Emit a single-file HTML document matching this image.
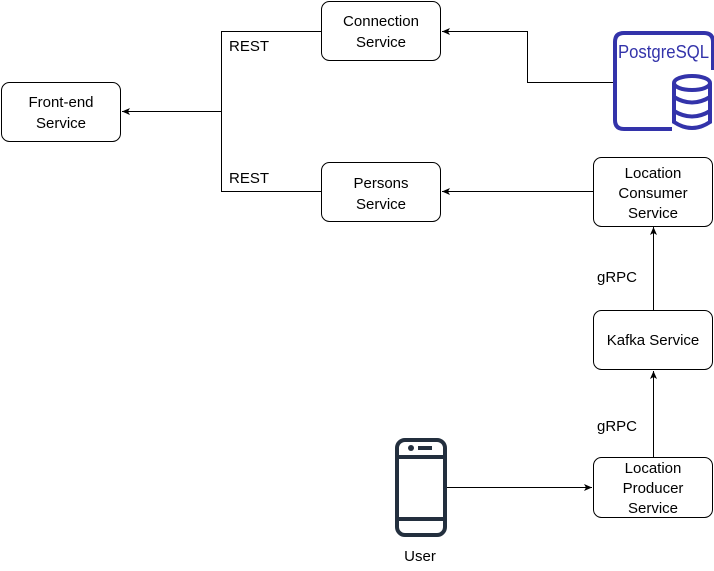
<!DOCTYPE html>
<html><head><style>body{margin:0;background:#fff}svg{display:block}</style></head><body>
<svg width="714" height="571" xmlns="http://www.w3.org/2000/svg" font-family="Liberation Sans, Arial, sans-serif" font-size="15">
<defs><marker id="a" markerWidth="10" markerHeight="10" refX="8" refY="4" orient="auto" markerUnits="userSpaceOnUse"><path d="M0,0.5 L8,4 L0,7.5 L2,4 Z" fill="#000"/></marker></defs>
<g fill="#fff" stroke="#000" stroke-width="1">
<rect x="1.5" y="82.5" width="119" height="59" rx="8"/>
<rect x="321.5" y="1.5" width="119" height="59" rx="8"/>
<rect x="321.5" y="162.5" width="119" height="59" rx="8"/>
<rect x="593.5" y="157.5" width="119" height="69" rx="8"/>
<rect x="593.5" y="310.5" width="119" height="59" rx="8"/>
<rect x="593.5" y="457.5" width="119" height="60" rx="8"/>
</g>
<g fill="none" stroke="#000" stroke-width="1">
<path d="M321 31.5 H221.5 V191.5 H321"/>
<path d="M221.5 111.5 H122" marker-end="url(#a)"/>
<path d="M613 82.5 H527.5 V31.5 H442" marker-end="url(#a)"/>
<path d="M593 191.5 H442" marker-end="url(#a)"/>
<path d="M653.5 310 V227" marker-end="url(#a)"/>
<path d="M653.5 457 V371" marker-end="url(#a)"/>
<path d="M447 487.5 H592" marker-end="url(#a)"/>
</g>
<g text-anchor="middle" fill="#000">
<text x="61" y="107">Front-end</text><text x="61" y="128">Service</text>
<text x="381" y="26">Connection</text><text x="381" y="47">Service</text>
<text x="381" y="188">Persons</text><text x="381" y="209">Service</text>
<text x="653" y="178">Location</text><text x="653" y="198">Consumer</text><text x="653" y="218">Service</text>
<text x="653" y="345">Kafka Service</text>
<text x="653" y="473">Location</text><text x="653" y="493">Producer</text><text x="653" y="513">Service</text>
<text x="420" y="561">User</text>
</g>
<g fill="#000"><text x="229" y="51">REST</text><text x="229" y="183">REST</text>
<text x="597" y="282">gRPC</text><text x="597" y="431">gRPC</text></g>
<g stroke="#3333aa" stroke-width="4" fill="none">
<path d="M672 129 H624 Q615 129 615 120 V42 Q615 33 624 33 H704 Q713 33 713 42 V70"/>
<ellipse cx="692" cy="83" rx="18" ry="7" fill="#fff"/>
<path d="M674 83 V122 Q692 134 710 122 V83"/>
<path d="M674 97 Q692 108 710 97 M674 111 Q692 122 710 111"/>
</g>
<text x="618" y="58" font-size="18" fill="#3333aa" textLength="91" lengthAdjust="spacingAndGlyphs">PostgreSQL</text>
<g stroke="#232f3e" stroke-width="4" fill="none">
<rect x="397" y="440" width="48" height="95" rx="8"/>
<path d="M397 457 H445 M397 519 H445"/>
</g>
<circle cx="411" cy="448" r="3" fill="#232f3e"/>
<rect x="418" y="446" width="14" height="4" fill="#232f3e"/>
</svg>
</body></html>
